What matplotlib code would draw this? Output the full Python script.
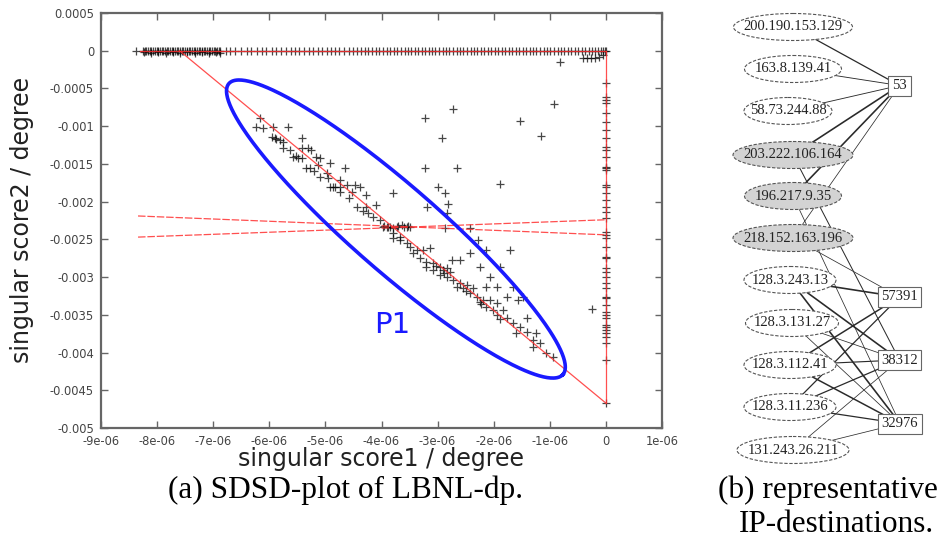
import numpy as np
import matplotlib
matplotlib.use("Agg")
import matplotlib.pyplot as plt
from matplotlib.patches import Ellipse, Rectangle

# ---------------- data (x in 1e-6 units, y in 1e-3 units) ----------------
xtick_vals = [-9, -8, -7, -6, -5, -4, -3, -2, -1, 0, 1]
xtick_labels = ['-9e-06', '-8e-06', '-7e-06', '-6e-06', '-5e-06', '-4e-06',
                '-3e-06', '-2e-06', '-1e-06', '0', '1e-06']
ytick_vals = [0.5, 0, -0.5, -1, -1.5, -2, -2.5, -3, -3.5, -4, -4.5, -5]
ytick_labels = ['0.0005', '0', '-0.0005', '-0.001', '-0.0015', '-0.002', '-0.0025',
                '-0.003', '-0.0035', '-0.004', '-0.0045', '-0.005']

# points lying on score2 = 0
band_x = [-8.37, -8.25, -8.22, -8.19, -8.16, -8.13, -8.10, -8.07, -8.04, -8.01, -7.98, -7.95,
          -7.92, -7.89, -7.86, -7.83, -7.80, -7.77, -7.74, -7.71, -7.68, -7.65, -7.62, -7.59,
          -7.56, -7.53, -7.50, -7.47, -7.44, -7.41, -7.38, -7.35, -7.32, -7.29, -7.26, -7.23,
          -7.20, -7.17, -7.14, -7.11, -7.08, -7.05, -7.02, -6.99, -6.96, -6.93, -6.90, -6.87,
          -6.78, -6.70, -6.62, -6.51, -6.40, -6.33, -6.22, -6.13, -6.05, -5.96, -5.88, -5.80,
          -5.71, -5.62, -5.55, -5.47, -5.38, -5.30, -5.22, -5.13, -5.06, -4.98, -4.90, -4.83,
          -4.75, -4.66, -4.58, -4.51, -4.44, -4.37, -4.30, -4.24, -4.17, -4.10, -4.04, -3.97,
          -3.91, -3.85, -3.78, -3.72, -3.66, -3.59, -3.53, -3.47, -3.41, -3.35, -3.28, -3.22,
          -3.16, -3.10, -3.04, -2.97, -2.91, -2.85, -2.79, -2.72, -2.66, -2.60, -2.54, -2.48,
          -2.41, -2.35, -2.29, -2.23, -2.17, -2.10, -2.04, -1.98, -1.92, -1.86, -1.79, -1.73,
          -1.67, -1.61, -1.55, -1.48, -1.42, -1.36, -1.30, -1.24, -1.17, -1.11, -1.05, -0.99,
          -0.93, -0.86, -0.80, -0.74, -0.68, -0.62, -0.55, -0.49, -0.43, -0.37, -0.31, -0.25,
          -0.19, -0.14, -0.09, -0.05, -0.02, 0.0]
band_y2 = [-0.02, -0.03, -0.02, -0.03, -0.02, -0.03, -0.02, -0.03, -0.02, -0.03, -0.02, -0.03]
band_x2 = [-8.24, -8.11, -7.98, -7.85, -7.72, -7.59, -7.46, -7.33, -7.20, -7.07, -6.95, -6.88]
blob_x = [-0.40, -0.33, -0.26, -0.19, -0.12, -0.06]
blob_y = [-0.09, -0.10, -0.10, -0.09, -0.08, -0.05]

# points lying on score1 = 0
vert_y = [-0.432, -0.610, -0.653, -0.697, -0.822, -0.941, -1.051, -1.161, -1.272, -1.316,
          -1.405, -1.537, -1.559, -1.581, -1.780, -1.802, -1.890, -1.979, -2.067, -2.134,
          -2.221, -2.399, -2.442, -2.486, -2.598, -2.730, -2.751, -2.884, -2.929, -2.995,
          -3.083, -3.149, -3.260, -3.281, -3.370, -3.459, -3.503, -3.547, -3.635, -3.658,
          -3.702, -3.745, -3.790, -3.878, -4.099, -4.673]

# diagonal cluster (P1)
diag_x = [-6.17, -6.23, -6.11, -5.93, -5.66, -5.96, -5.90, -5.81, -5.75, -5.42, -5.75, -5.63,
          -5.42, -5.31, -5.25, -5.57, -5.48, -5.42, -5.16, -5.10, -5.34, -5.28, -5.13, -4.92,
          -4.65, -5.10, -4.98, -4.95, -4.74, -4.92, -4.83, -4.74, -4.62, -4.47, -4.39, -4.74,
          -4.53, -4.27, -3.79, -4.44, -4.27, -4.09, -4.24, -4.15, -4.03, -3.97, -3.88, -3.73,
          -3.55, -3.79, -3.67, -3.85, -3.80, -3.64, -3.49, -3.95, -3.90, -3.70, -3.60, -3.52,
          -3.79, -3.67, -3.55, -3.49, -3.37, -3.26, -3.14, -3.43, -3.32, -3.20, -3.08, -2.96,
          -2.84, -3.20, -3.08, -2.90, -2.78, -2.96, -2.84, -2.72, -2.60, -2.48, -2.66, -2.54,
          -2.37, -2.42, -2.30, -2.19, -2.07, -1.95, -2.25, -2.13, -2.01, -1.83, -1.95, -1.77,
          -1.65, -1.53, -1.41, -1.30, -1.18, -1.06, -0.94, -1.30,
          -5.88, -5.52, -5.20, -4.86, -4.58, -4.33, -3.02, -2.88, -2.50, -2.22, -1.88, -1.60]
diag_y = [-0.896, -1.015, -1.028, -1.007, -1.007, -1.140, -1.161, -1.183, -1.206, -1.161, -1.293, -1.316,
          -1.293, -1.293, -1.316, -1.405, -1.426, -1.426, -1.405, -1.426, -1.559, -1.559, -1.515, -1.492,
          -1.559, -1.670, -1.625, -1.691, -1.714, -1.802, -1.802, -1.802, -1.780, -1.780, -1.802, -1.869,
          -1.869, -1.912, -1.890, -2.067, -2.067, -2.045, -2.155, -2.200, -2.244, -2.333, -2.333, -2.333,
          -2.333, -2.420, -2.465, -2.333, -2.350, -2.310, -2.340, -2.320, -2.340, -2.320, -2.340, -2.320,
          -2.486, -2.509, -2.553, -2.598, -2.641, -2.641, -2.619, -2.685, -2.751, -2.796, -2.818, -2.863,
          -2.884, -2.863, -2.906, -2.906, -2.929, -2.973, -2.995, -3.039, -3.083, -3.105, -3.128, -3.149,
          -3.149, -3.215, -3.260, -3.304, -3.304, -3.348, -3.326, -3.393, -3.437, -3.437, -3.503, -3.547,
          -3.613, -3.658, -3.724, -3.834, -3.878, -4.010, -4.055, -3.923,
          -1.170, -1.390, -1.590, -1.800, -1.950, -2.120, -2.850, -2.940, -3.180, -3.360, -3.560, -3.740]

# scattered points
off_x = [-3.23, -2.73, -2.92, -3.23, -2.66, -2.99, -2.87, -2.82, -1.53, -1.16, -0.93, -1.89,
         -0.82, -2.42, -2.87, -3.19, -0.25, -2.84, -2.28, -2.13, -1.71, -2.42, -2.60, -2.75,
         -2.25, -1.89, -2.07, -2.13, -1.95, -1.65, -1.77, -1.56, -1.47, -1.41, -1.24]
off_y = [-0.892, -0.773, -1.157, -1.555, -1.555, -1.806, -1.886, -2.032, -0.932, -1.130, -0.706, -1.767,
         -0.150, -2.350, -2.350, -2.070, -3.424, -2.155, -2.509, -2.641, -2.641, -2.685, -2.774, -2.774,
         -2.863, -2.863, -2.995, -3.128, -3.128, -3.128, -3.260, -3.304, -3.260, -3.547, -3.745]

# red fit lines (endpoints)
diag_line_x, diag_line_y = [-7.6, 0.0], [0.0, -4.67]
vline_x, vline_y = [0.0, 0.0], [0.0, -4.67]
hline_x, hline_y = [-8.3, 0.0], [0.0, 0.0]
dash1_x, dash1_y = [-8.34, 0.0], [-2.19, -2.44]
dash2_x, dash2_y = [-8.34, 0.0], [-2.47, -2.24]

# P1 ellipse: centre, half major axis vector, half minor axis vector
p1_center = (-3.743, -2.363)
p1_major = (2.977, -1.928)
p1_minor = (0.504, 0.429)
p1_label_pos = (-3.81, -3.635)

# graph (b)
ip_nodes = ['200.190.153.129', '163.8.139.41', '58.73.244.88', '203.222.106.164',
            '196.217.9.35', '218.152.163.196', '128.3.243.13', '128.3.131.27',
            '128.3.112.41', '128.3.11.236', '131.243.26.211']
ip_gray = [False, False, False, True, True, True, False, False, False, False, False]
port_nodes = ['53', '57391', '38312', '32976']
edges = [('200.190.153.129', '53', 1.0), ('163.8.139.41', '53', 0.7),
         ('58.73.244.88', '53', 0.7), ('203.222.106.164', '53', 1.3),
         ('196.217.9.35', '53', 1.3), ('218.152.163.196', '53', 0.6),
         ('203.222.106.164', '38312', 0.8), ('196.217.9.35', '32976', 0.6),
         ('218.152.163.196', '57391', 0.6),
         ('128.3.243.13', '57391', 1.3), ('128.3.243.13', '38312', 1.3),
         ('128.3.243.13', '32976', 1.3), ('128.3.131.27', '38312', 0.6),
         ('128.3.131.27', '32976', 0.6), ('128.3.112.41', '57391', 1.2),
         ('128.3.112.41', '38312', 0.9), ('128.3.112.41', '32976', 1.2),
         ('128.3.11.236', '57391', 1.0), ('128.3.11.236', '38312', 1.0),
         ('128.3.11.236', '32976', 1.0), ('131.243.26.211', '38312', 0.6),
         ('131.243.26.211', '32976', 0.6)]

# layout of the graph (pixel positions)
ip_pos = [(793, 27), (793, 69), (788, 111), (793, 155), (793, 196), (793, 238),
          (790, 280), (792, 323), (790, 365), (790, 407), (793, 450)]
ip_w = [119, 97, 88, 120, 97, 120, 92, 93, 92, 92, 112]
port_pos = [(899.5, 85.5), (899.5, 297), (899.5, 360), (900, 423.5)]
port_w = [23, 43, 43, 44]

# ---------------- figure ----------------
W, H = 943, 545
fig = plt.figure(figsize=(W / 100, H / 100), dpi=100)

ax = fig.add_axes([101 / W, 1 - 428 / H, 561 / W, 415 / H])
ax.set_xlim(-9, 1)
ax.set_ylim(-5, 0.5)
ax.set_xticks(xtick_vals)
ax.set_xticklabels(xtick_labels)
ax.set_yticks(ytick_vals)
ax.set_yticklabels(ytick_labels)
ax.tick_params(direction='in', top=True, right=True, length=5, width=1.0,
               color='#666666', labelsize=8.3, labelcolor='#444444', pad=5)
for sp in ax.spines.values():
    sp.set_color('#666666')
    sp.set_linewidth(1.6)

mk = dict(linestyle='none', marker='+', color='black', ms=5.5, mew=0.9, alpha=0.72, zorder=2)
ax.plot(band_x, [0.0] * len(band_x), **mk)
ax.plot(band_x2, band_y2, **mk)
ax.plot(blob_x, blob_y, **mk)
ax.plot([0.0] * len(vert_y), vert_y, **mk)
ax.plot(diag_x, diag_y, **mk)
ax.plot(off_x, off_y, **mk)

red = dict(color='#ff3030', lw=0.9, alpha=0.85, zorder=3)
ax.plot(diag_line_x, diag_line_y, **red)
ax.plot(vline_x, vline_y, **red)
ax.plot(hline_x, hline_y, **red)
ax.plot(dash1_x, dash1_y, dashes=(6, 1.5), **red)
ax.plot(dash2_x, dash2_y, dashes=(6, 1.5), **red)

t = np.linspace(0, 2 * np.pi, 400)
ex = p1_center[0] + p1_major[0] * np.cos(t) + p1_minor[0] * np.sin(t)
ey = p1_center[1] + p1_major[1] * np.cos(t) + p1_minor[1] * np.sin(t)
ax.plot(ex, ey, color='#1a1aff', lw=2.6, zorder=4)
ax.text(p1_label_pos[0], p1_label_pos[1], 'P1', color='#1a1aff', fontsize=21,
        ha='center', va='center', family='DejaVu Sans')

fig.text(381 / W, 1 - 459 / H, 'singular score1 / degree', fontsize=17,
         family='DejaVu Sans', color='#222222', ha='center', va='center')
fig.text(22 / W, 1 - 220 / H, 'singular score2 / degree', fontsize=17,
         family='DejaVu Sans', color='#222222', ha='center', va='center', rotation=90)

# ---------------- graph panel ----------------
gx = fig.add_axes([0, 0, 1, 1])
gx.set_xlim(0, W)
gx.set_ylim(H, 0)
gx.axis('off')
gx.patch.set_alpha(0)

ip_index = {n: i for i, n in enumerate(ip_nodes)}
port_index = {n: i for i, n in enumerate(port_nodes)}
for a, b, w in edges:
    p = ip_pos[ip_index[a]]
    q = port_pos[port_index[b]]
    gx.plot([p[0], q[0]], [p[1], q[1]], color='#2a2a2a', lw=w * 0.9, zorder=1)

for name, (cx, cy), w, g in zip(ip_nodes, ip_pos, ip_w, ip_gray):
    e = Ellipse((cx, cy), w, 27, facecolor='#d3d3d3' if g else 'white',
                edgecolor='#555555', lw=0.8, linestyle=(0, (3, 1.5)), zorder=2)
    gx.add_patch(e)
    gx.text(cx, cy, name, fontsize=10.5, family='Liberation Serif', ha='center',
            va='center', color='#222222', zorder=3)

for name, (cx, cy), w in zip(port_nodes, port_pos, port_w):
    r = Rectangle((cx - w / 2, cy - 10), w, 20, facecolor='white', edgecolor='#666666',
                  lw=0.8, zorder=2)
    gx.add_patch(r)
    gx.text(cx, cy, name, fontsize=10.5, family='Liberation Serif', ha='center',
            va='center', color='#222222', zorder=3)

cap = dict(fontsize=22.5, family='Liberation Serif', ha='center', va='center', color='black')
fig.text(345 / W, 1 - 490 / H, '(a) SDSD-plot of LBNL-dp.', **cap)
fig.text(828 / W, 1 - 490 / H, '(b) representative', **cap)
fig.text(836 / W, 1 - 525 / H, 'IP-destinations.', **cap)

fig.savefig('out.png', dpi=100)
